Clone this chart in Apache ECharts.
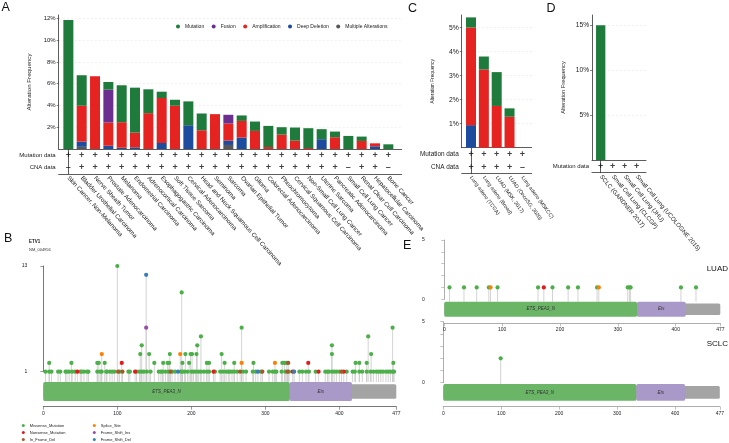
<!DOCTYPE html>
<html>
<head>
<meta charset="utf-8">
<script src="https://cdn.jsdelivr.net/npm/echarts@6/dist/echarts.min.js"></script>
<style>
  html, body { margin: 0; padding: 0; background: #fff; }
  #chart { width: 729px; height: 443px; }
</style>
</head>
<body>
<div id="chart"></div>
<script>
var FONT = 'Liberation Sans';

// ---- panel A: pan-cancer alteration frequency (%) ----
var cancerTypes = ['Skin Cancer, Non-Melanoma', 'Bladder Urothelial Carcinoma', 'Nerve Sheath Tumor',
  'Prostate Adenocarcinoma', 'Melanoma', 'Endometrial Carcinoma', 'Adrenocortical Carcinoma',
  'Esophagogastric Carcinoma', 'Soft Tissue Sarcoma', 'Cervical Adenocarcinoma',
  'Head and Neck Squamous Cell Carcinoma', 'Seminoma', 'Sarcoma', 'Ovarian Epithelial Tumor', 'Glioma',
  'Colorectal Adenocarcinoma', 'Pheochromocytoma', 'Cervical Squamous Cell Carcinoma',
  'Non-Small Cell Lung Cancer', 'Uterine Sarcoma', 'Pancreatic Adenocarcinoma', 'Small Cell Lung Cancer',
  'Renal Clear Cell Carcinoma', 'Hepatocellular Carcinoma', 'Bone Cancer'];
var aMutation = [11.85, 2.8, 0, 0.7, 3.39, 4.13, 2.19, 0.58, 0.55, 2.19, 1.54, 0, 0, 0.5, 0.86, 1.94, 0.68, 1.2, 1.82, 0.92, 0.52, 1.2, 0.4, 0, 0.43];
var aFusion = [0, 0, 0, 3.02, 0, 0, 0, 0, 0, 0, 0, 0, 0.8, 0, 0, 0, 0, 0, 0, 0, 0, 0, 0, 0, 0];
var aAmp = [0, 3.29, 6.68, 2.13, 2.34, 1.35, 3.29, 4.13, 3.97, 0, 1.72, 3.2, 1.57, 1.53, 1.66, 0.18, 1.32, 0.77, 0.09, 0, 1.08, 0, 0.74, 0.27, 0];
var aDeepDel = [0, 0.48, 0, 0.3, 0.12, 0.15, 0, 0.55, 0, 2.18, 0, 0, 0.4, 1.05, 0, 0, 0, 0, 0, 0.9, 0, 0, 0, 0.25, 0];
var aMultiple = [0, 0.2, 0, 0, 0, 0, 0, 0, 0, 0, 0, 0, 0.37, 0, 0, 0, 0, 0, 0, 0, 0, 0, 0, 0, 0];
var aMutFlag = ['+', '+', '+', '+', '+', '+', '+', '+', '+', '+', '+', '+', '+', '+', '+', '+', '+', '+', '+', '+', '+', '+', '+', '+', '+'];
var aCnaFlag = ['–', '+', '+', '+', '+', '+', '+', '+', '+', '+', '+', '+', '+', '+', '+', '+', '+', '+', '+', '+', '+', '–', '+', '+', '–'];
var pctTicksA = [2, 4, 6, 8, 10, 12];

// ---- panel C: lung adenocarcinoma studies ----
var luadStudies = ['Lung adeno (TCGA)', 'Lung adeno (Broad)', 'LUAD (MSK, 2017)', 'LUAD (OncoSG, 2020)', 'Lung adeno (MSKCC)'];
var cMutation = [0.42, 0.54, 1.41, 0.35, 0];
var cAmp = [4.07, 3.26, 1.74, 1.29, 0];
var cDeepDel = [0.94, 0, 0, 0, 0];
var cMutFlag = ['+', '+', '+', '+', '+'];
var cCnaFlag = ['+', '+', '+', '+', '–'];
var pctTicksC = [1, 2, 3, 4, 5];

// ---- panel D: small cell lung cancer studies ----
var sclcStudies = ['SCLC (GARDNER 2017)', 'Small Cell Lung (CLCGP)', 'Small Cell Lung (JHU)', 'Small Cell Lung (UCOLOGNE 2015)'];
var dMutation = [15, 0, 0, 0];
var dMutFlag = ['+', '+', '+', '+'];
var pctTicksD = [5, 10, 15];

// ---- panels B / E: ETV1 lollipops ----
var proteinLength = 477;
var proteinTicks = [0, 100, 200, 300, 400, 477];
var etv1Domains = [['ETS_PEA3_N', 0, 333], ['Ets', 333, 417]];
var mutTypes = ['Missense_Mutation', 'Nonsense_Mutation', 'In_Frame_Del', 'Splice_Site', 'Frame_Shift_Ins', 'Frame_Shift_Del'];
// [amino acid, count, type index]
var bMutations = [
  [3, 1, 0], [8, 1, 0], [11, 1, 0], [20, 1, 0], [23, 1, 0], [30, 1, 0], [32, 1, 0], [35, 1, 0], [39, 1, 0], [43, 1, 0],
  [46, 1, 1], [50, 1, 0], [52, 1, 0], [55, 1, 0], [59, 1, 0], [61, 1, 0], [73, 1, 0], [77, 1, 0], [79, 1, 0], [85, 1, 0],
  [86, 1, 0], [90, 1, 0], [93, 1, 0], [96, 1, 0], [101, 1, 2], [103, 1, 0], [107, 1, 2], [115, 1, 0], [117, 1, 0], [124, 1, 1],
  [126, 1, 0], [130, 1, 0], [133, 1, 0], [136, 1, 0], [140, 1, 0], [145, 1, 0], [156, 1, 0], [159, 1, 0], [161, 1, 0], [165, 1, 0],
  [169, 1, 0], [172, 1, 2], [174, 1, 0], [178, 1, 0], [182, 1, 5], [186, 1, 0], [188, 1, 0], [191, 1, 0], [195, 1, 0], [200, 1, 0],
  [203, 1, 0], [206, 1, 0], [210, 1, 0], [213, 1, 0], [217, 1, 0], [221, 1, 0], [224, 1, 0], [230, 1, 1], [232, 1, 0], [239, 1, 0],
  [243, 1, 0], [247, 1, 0], [250, 1, 0], [252, 1, 0], [255, 1, 0], [258, 1, 0], [262, 1, 0], [266, 1, 2], [270, 1, 0], [274, 1, 0],
  [283, 1, 0], [287, 1, 0], [290, 1, 5], [294, 1, 0], [296, 1, 2], [305, 1, 0], [310, 1, 0], [313, 1, 0], [315, 1, 0], [322, 1, 0],
  [327, 1, 0], [330, 1, 2], [332, 1, 0], [337, 1, 1], [339, 1, 5], [346, 1, 0], [350, 1, 0], [355, 1, 0], [359, 1, 0], [368, 1, 0],
  [372, 1, 1], [381, 1, 0], [384, 1, 0], [386, 1, 0], [390, 1, 0], [393, 1, 0], [396, 1, 0], [400, 1, 0], [403, 1, 2], [406, 1, 1],
  [410, 1, 0], [418, 1, 0], [421, 1, 0], [427, 1, 0], [431, 1, 0], [437, 1, 0], [442, 1, 0], [446, 1, 0], [450, 1, 0], [453, 1, 0],
  [456, 1, 0], [459, 1, 0], [463, 1, 0], [466, 1, 0], [469, 1, 0], [472, 1, 0], [474, 1, 0],
  [8, 2, 0], [38, 2, 0], [73, 2, 0], [75, 2, 0], [79, 3, 3], [83, 2, 0], [106, 2, 1], [100, 13, 0], [131, 3, 0], [133, 4, 0],
  [139, 12, 5], [139, 6, 4], [143, 3, 0], [150, 2, 0], [162, 2, 0], [168, 2, 0], [170, 2, 0], [171, 3, 0], [185, 3, 3], [187, 10, 0],
  [188, 2, 0], [192, 3, 0], [197, 2, 0], [199, 3, 0], [201, 3, 0], [207, 3, 0], [208, 4, 0], [213, 5, 0], [221, 2, 0], [224, 2, 0],
  [241, 3, 0], [245, 2, 0], [258, 2, 0], [268, 2, 3], [268, 6, 0], [284, 2, 0], [313, 2, 3], [323, 2, 0], [326, 2, 0], [329, 2, 0],
  [331, 2, 2], [358, 2, 1], [390, 3, 0], [390, 4, 0], [422, 2, 0], [427, 2, 0], [437, 2, 0], [439, 5, 0], [443, 3, 0], [472, 6, 0],
  [473, 2, 0]
];
var luadMutations = [[9, 1, 0], [34, 1, 0], [56, 1, 0], [77, 1, 0], [80, 1, 3], [92, 1, 0], [162, 1, 0], [172, 1, 1], [187, 1, 0],
  [214, 1, 0], [231, 1, 0], [264, 1, 0], [267, 1, 3], [317, 1, 0], [320, 1, 0], [322, 1, 0], [409, 1, 0], [435, 1, 0]];
var sclcMutations = [[99, 2, 0]];
var countTicksB = [1, 13];
var countTicksE = [0, 1, 2, 3, 4, 5];
var countLabelsE = [0, 5];

// ---- styles ----
var ALT_COLORS = {
  'Mutation': '#1e7b3b', 'Fusion': '#6b2f90', 'Amplification': '#e52421',
  'Deep Deletion': '#1d4c9e', 'Multiple Alterations': '#575757'
};
var TYPE_COLORS = ['#4daf4a', '#e41a1c', '#a65628', '#ff7f00', '#984ea3', '#377eb8'];
var DOMAIN_COLORS = { 'ETS_PEA3_N': '#6ab566', 'Ets': '#a999c9' };
var TXT = '#1a1a1a';
var AXIS = '#333';

function idx(arr) {
  return arr.map(function (_, i) { return i; });
}

var chart = echarts.init(document.getElementById('chart'));

var grids = [
  { left: 61.7, top: 15, width: 333.3, height: 134 },     // 0 A bars
  { left: 58.7, top: 149, width: 343, height: 25 },       // 1 A table
  { left: 464.6, top: 15, width: 64.2, height: 132.7 },   // 2 C bars
  { left: 461.7, top: 147.7, width: 70, height: 26 },     // 3 C table
  { left: 594.7, top: 15, width: 48, height: 145 },       // 4 D bars
  { left: 592, top: 160, width: 54, height: 12.7 },       // 5 D table
  { left: 43.3, top: 266, width: 353, height: 105.7 },    // 6 B lollipop
  { left: 43.3, top: 382, width: 353, height: 19 },       // 7 B protein
  { left: 444.3, top: 240, width: 276, height: 59.3 },    // 8 LUAD lollipop
  { left: 444.3, top: 301.7, width: 276, height: 15 },    // 9 LUAD protein
  { left: 443.3, top: 321.7, width: 276.5, height: 61 },  // 10 SCLC lollipop
  { left: 443.3, top: 384, width: 276.5, height: 16.7 },  // 11 SCLC protein
  { left: 58.7, top: 15, width: 343, height: 134 },       // 12 A frame
  { left: 461.7, top: 15, width: 70, height: 132.7 },     // 13 C frame
  { left: 592, top: 15, width: 54, height: 145 }          // 14 D frame
].map(function (g) { g.outerBoundsMode = 'none'; g.containLabel = false; return g; });

var xAxes = [], yAxes = [], series = [];

// bar panels: bars on a category grid, axes drawn on a frame grid, +/- table below
function barPanel(gBar, gFrame, gTab, cats, min, max, yMax, ticks, opt) {
  xAxes[gBar] = { type: 'category', gridIndex: gBar, data: idx(cats), show: false };
  yAxes[gBar] = { type: 'value', gridIndex: gBar, min: 0, max: yMax, show: false };
  xAxes[gFrame] = {
    type: 'value', gridIndex: gFrame, min: 0, max: 1,
    axisLine: { show: true, onZero: false, lineStyle: { color: AXIS, width: 0.8 } },
    axisTick: { show: false }, axisLabel: { show: false }, splitLine: { show: false }
  };
  yAxes[gFrame] = {
    type: 'value', gridIndex: gFrame, min: 0, max: yMax,
    name: 'Alteration Frequency', nameLocation: 'middle', nameGap: opt.nameGap,
    nameTextStyle: { fontSize: opt.nameSize, color: TXT, fontFamily: FONT },
    axisLine: { show: true, lineStyle: { color: AXIS, width: 0.8 } },
    axisTick: { show: true, length: 2, customValues: ticks, lineStyle: { color: AXIS, width: 0.6 } },
    axisLabel: { customValues: ticks, formatter: '{value}%', fontSize: opt.tickSize, margin: 3, color: TXT, fontFamily: FONT },
    splitLine: { show: true, lineStyle: { color: '#e6e6e6', type: [2, 2], width: 0.6 } }
  };
  xAxes[gTab] = {
    type: 'value', gridIndex: gTab, min: min, max: max,
    axisLine: { show: true, onZero: false, lineStyle: { color: AXIS, width: 0.8 } },
    axisTick: { show: false }, splitLine: { show: false },
    axisLabel: {
      customValues: idx(cats), formatter: function (v) { return cats[Math.round(v)]; },
      rotate: opt.rotate, fontSize: opt.catSize, margin: 3, color: TXT, fontFamily: FONT
    }
  };
  yAxes[gTab] = {
    type: 'category', gridIndex: gTab, data: opt.rows,
    axisLine: { show: true, lineStyle: { color: AXIS, width: 0.8 } },
    axisTick: { show: false },
    axisLabel: { fontSize: opt.rowSize, margin: 3, color: TXT, fontFamily: FONT }
  };
}

function stackBars(name, vals, g, stack, width) {
  return {
    type: 'bar', name: name, xAxisIndex: g, yAxisIndex: g, stack: stack, barWidth: width,
    itemStyle: { color: ALT_COLORS[name] },
    data: vals
  };
}

function flagSeries(g, row, flags) {
  return {
    type: 'scatter', xAxisIndex: g, yAxisIndex: g, symbolSize: 1, silent: true,
    itemStyle: { color: 'rgba(0,0,0,0)' },
    label: {
      show: true, position: 'inside', formatter: function (p) { return p.data.flag; },
      fontSize: 9, fontWeight: 'bold', color: '#111', fontFamily: FONT
    },
    data: flags.map(function (f, i) { return { value: [i, row], flag: f }; })
  };
}

barPanel(0, 12, 1, cancerTypes, -0.725, 25.0, 12.3, pctTicksA,
  { nameGap: 26, nameSize: 6.2, tickSize: 6, rotate: -48, catSize: 6.2, rows: ['CNA data', 'Mutation data'], rowSize: 6 });
barPanel(2, 13, 3, luadStudies, -0.726, 4.726, 5.53, pctTicksC,
  { nameGap: 27, nameSize: 4.8, tickSize: 6.8, rotate: -54, catSize: 5.2, rows: ['CNA data', 'Mutation data'], rowSize: 6.4 });
barPanel(4, 14, 5, sclcStudies, -0.725, 3.775, 16.15, pctTicksD,
  { nameGap: 26, nameSize: 5.7, tickSize: 6.6, rotate: -50, catSize: 6, rows: ['Mutation data'], rowSize: 6 });

series.push(
  stackBars('Multiple Alterations', aMultiple, 0, 'a', 10),
  stackBars('Deep Deletion', aDeepDel, 0, 'a', 10),
  stackBars('Amplification', aAmp, 0, 'a', 10),
  stackBars('Fusion', aFusion, 0, 'a', 10),
  stackBars('Mutation', aMutation, 0, 'a', 10),
  flagSeries(1, 'Mutation data', aMutFlag),
  flagSeries(1, 'CNA data', aCnaFlag),
  stackBars('Deep Deletion', cDeepDel, 2, 'c', 10),
  stackBars('Amplification', cAmp, 2, 'c', 10),
  stackBars('Mutation', cMutation, 2, 'c', 10),
  flagSeries(3, 'Mutation data', cMutFlag),
  flagSeries(3, 'CNA data', cCnaFlag),
  stackBars('Mutation', dMutation, 4, 'd', 9.3),
  flagSeries(5, 'Mutation data', dMutFlag)
);

// lollipop panels
function lolliPanel(gPts, gProt, pts, yMin, yMax, yTicks, yLabels, yOffset, xOffset, base, extra, axisColor) {
  xAxes[gPts] = { type: 'value', gridIndex: gPts, min: 0, max: proteinLength, show: false };
  yAxes[gPts] = {
    type: 'value', gridIndex: gPts, min: yMin, max: yMax, offset: yOffset,
    axisLine: { show: true, lineStyle: { color: axisColor, width: 0.8 } },
    axisTick: { show: true, length: 3, customValues: yTicks, lineStyle: { color: axisColor, width: 0.6 } },
    axisLabel: { customValues: yLabels, fontSize: 5, margin: 2, color: TXT, fontFamily: FONT },
    splitLine: { show: false }
  };
  xAxes[gProt] = {
    type: 'value', gridIndex: gProt, min: 0, max: proteinLength, offset: xOffset,
    axisLine: { show: true, onZero: false, lineStyle: { color: axisColor, width: 0.8 } },
    axisTick: { show: true, length: 3, customValues: proteinTicks, lineStyle: { color: axisColor, width: 0.6 } },
    axisLabel: { customValues: proteinTicks, fontSize: 5, margin: 4, color: TXT, fontFamily: FONT },
    splitLine: { show: false }
  };
  yAxes[gProt] = { type: 'value', gridIndex: gProt, min: 0, max: 1, show: false };

  series.push({
    type: 'custom', xAxisIndex: gPts, yAxisIndex: gPts, silent: true, z: 1,
    data: pts.map(function (p) { return [p[0], p[1]]; }),
    renderItem: function (params, api) {
      var top = api.coord([api.value(0), api.value(1)]);
      var bot = api.coord([api.value(0), base]);
      return {
        type: 'line',
        shape: { x1: top[0], y1: top[1], x2: top[0], y2: bot[1] + extra },
        style: { stroke: '#c8c8c8', lineWidth: 0.8 }
      };
    }
  });

  var protItems = [{ value: [0, proteinLength, 0.12, 0.88], name: '', itemStyle: { color: '#a4a4a4' } }];
  etv1Domains.forEach(function (d) {
    protItems.push({ value: [d[1], d[2], 0, 1], name: d[0], itemStyle: { color: DOMAIN_COLORS[d[0]] } });
  });
  series.push({
    type: 'custom', xAxisIndex: gProt, yAxisIndex: gProt, silent: true, z: 2,
    data: protItems,
    renderItem: function (params, api) {
      var a = api.coord([api.value(0), api.value(3)]);
      var b = api.coord([api.value(1), api.value(2)]);
      var name = protItems[params.dataIndex].name;
      var kids = [{
        type: 'rect',
        shape: { x: a[0], y: a[1], width: b[0] - a[0], height: b[1] - a[1], r: 1.5 },
        style: { fill: api.visual('color') }
      }];
      if (name) {
        kids.push({
          type: 'text',
          style: {
            text: name, x: (a[0] + b[0]) / 2, y: (a[1] + b[1]) / 2, align: 'center', verticalAlign: 'middle',
            fontSize: 4.5, fontStyle: 'italic', fontFamily: FONT, fill: '#333'
          }
        });
      }
      return { type: 'group', children: kids };
    }
  });

  mutTypes.forEach(function (t, ti) {
    series.push({
      type: 'scatter', name: t, xAxisIndex: gPts, yAxisIndex: gPts, z: 3,
      symbol: 'circle', symbolSize: 4.2, itemStyle: { color: TYPE_COLORS[ti], opacity: 1 },
      data: pts.filter(function (p) { return p[2] === ti; }).map(function (p) { return [p[0], p[1]]; })
    });
  });
}

lolliPanel(6, 7, bMutations, 1, 13, countTicksB, countTicksB, 14, 5.7, 1, 10.3, '#555');
lolliPanel(8, 9, luadMutations, 0, 5, countTicksE, countLabelsE, 17.6, 6.6, 0, 2.4, '#999');
lolliPanel(10, 11, sclcMutations, 0, 5, countTicksE, countLabelsE, 16.6, 6, 0, 1.3, '#999');

function letter(t, x, y) {
  return { type: 'text', x: x, y: y, style: { text: t, fontSize: 12.5, fontFamily: FONT, fill: '#111' } };
}

var option = {
  animation: false,
  textStyle: { fontFamily: FONT },
  grid: grids,
  xAxis: xAxes,
  yAxis: yAxes,
  legend: [
    {
      data: ['Mutation', 'Fusion', 'Amplification', 'Deep Deletion', 'Multiple Alterations'],
      left: 176, top: 24, icon: 'circle', itemWidth: 4, itemHeight: 4, itemGap: 7.5, padding: 0,
      selectedMode: false, textStyle: { fontSize: 5, color: TXT }
    },
    {
      data: mutTypes.slice(0, 3), orient: 'vertical', left: 21.8, top: 423.5, icon: 'circle',
      itemWidth: 3, itemHeight: 3, itemGap: 3, padding: 0, selectedMode: false,
      textStyle: { fontSize: 4, color: TXT }
    },
    {
      data: mutTypes.slice(3), orient: 'vertical', left: 92.8, top: 423.5, icon: 'circle',
      itemWidth: 3, itemHeight: 3, itemGap: 3, padding: 0, selectedMode: false,
      textStyle: { fontSize: 4, color: TXT }
    }
  ],
  graphic: [
    letter('A', 1.5, 1),
    letter('B', 4, 232.5),
    letter('C', 408, 2.5),
    letter('D', 546.5, 2.5),
    letter('E', 403, 239),
    { type: 'text', x: 29, y: 239, style: { text: 'ETV1', fontSize: 4.5, fontWeight: 'bold', fontFamily: FONT, fill: '#111' } },
    { type: 'text', x: 29, y: 247.5, style: { text: 'NM_004956', fontSize: 4, fontFamily: FONT, fill: '#333' } },
    { type: 'text', x: 728, y: 265, style: { text: 'LUAD', fontSize: 8, fontFamily: FONT, fill: '#111', align: 'right' } },
    { type: 'text', x: 728, y: 340, style: { text: 'SCLC', fontSize: 8, fontFamily: FONT, fill: '#111', align: 'right' } }
  ],
  series: series
};

chart.setOption(option);
</script>
</body>
</html>
